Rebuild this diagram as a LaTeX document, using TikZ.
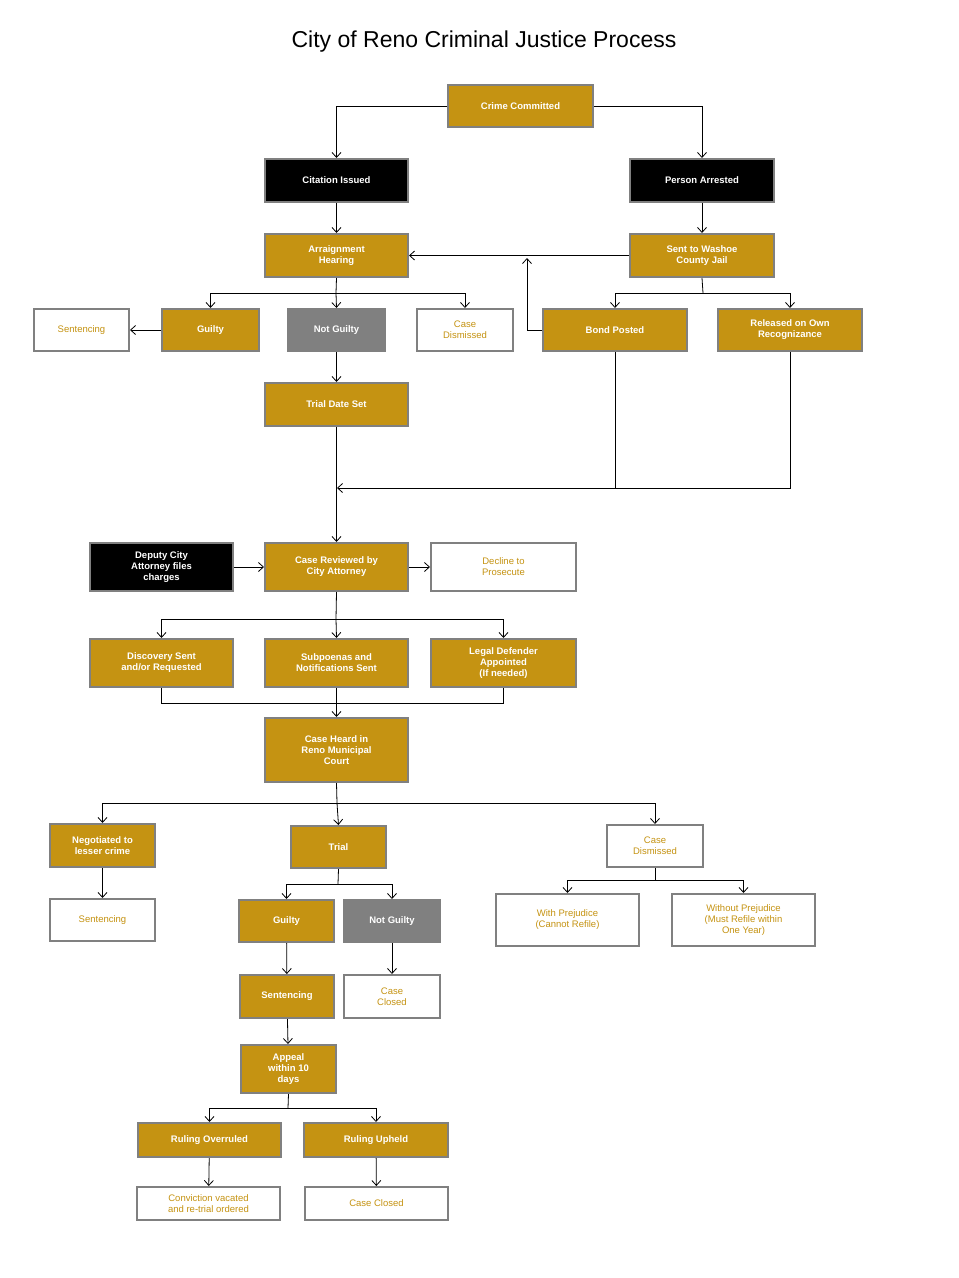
\documentclass[tikz,border=0pt]{standalone}
\usepackage{fontspec}
\setmainfont{Liberation Sans}
\usetikzlibrary{arrows.meta}
\definecolor{gold}{HTML}{C59312}
\definecolor{bord}{HTML}{808080}
\tikzset{
 box/.style={draw=bord,line width=2pt,align=center,inner sep=0pt,font=\bfseries\fontsize{9.5}{11}\selectfont},
 goldbox/.style={box,fill=gold,text=white},
 blackbox/.style={box,fill=black,text=white},
 graybox/.style={box,fill=bord,text=white},
 whitebox/.style={box,fill=white,text=gold,font=\fontsize{9.5}{11}\selectfont},
 ln/.style={line width=0.8pt},
 ar/.style={ln,-{Straight Barb[length=5pt,width=9pt]}}
}
\newcommand\bx[7]{\node[#6,minimum width={#4-#2},minimum height={#5-#3}] (#1) at ({(#2+#4)/2},{(#3+#5)/2}) {#7};}
\begin{document}
\begin{tikzpicture}[x=1pt,y=-1pt]
\useasboundingbox (0,0) rectangle (959,1278);
\node[font=\fontsize{23}{26}\selectfont] (title) at (484,42) {City of Reno Criminal Justice Process};
\bx{cc}{448}{85}{593}{127}{goldbox}{Crime Committed}
\bx{ci}{265}{159}{408}{202}{blackbox}{Citation Issued}
\bx{pa}{630}{159}{774}{202}{blackbox}{Person Arrested}
\bx{ah}{265}{234}{408}{277}{goldbox}{Arraignment\\Hearing}
\bx{sw}{630}{234}{774}{277}{goldbox}{Sent to Washoe\\County Jail}
\bx{s1}{34}{309}{129}{351}{whitebox}{Sentencing}
\bx{g1}{162}{309}{259}{351}{goldbox}{Guilty}
\bx{ng1}{288}{309}{385}{351}{graybox}{Not Guilty}
\bx{cd1}{417}{309}{513}{351}{whitebox}{Case\\Dismissed}
\bx{bp}{543}{309}{687}{351}{goldbox}{Bond Posted}
\bx{ro}{718}{309}{862}{351}{goldbox}{Released on Own\\Recognizance}
\bx{td}{265}{383}{408}{426}{goldbox}{Trial Date Set}
\bx{dc}{90}{543}{233}{591}{blackbox}{Deputy City\\Attorney files\\charges}
\bx{cr}{265}{543}{408}{591}{goldbox}{Case Reviewed by\\City Attorney}
\bx{dp}{431}{543}{576}{591}{whitebox}{Decline to\\Prosecute}
\bx{ds}{90}{639}{233}{687}{goldbox}{Discovery Sent\\and/or Requested}
\bx{sn}{265}{639}{408}{687}{goldbox}{Subpoenas and\\Notifications Sent}
\bx{ld}{431}{639}{576}{687}{goldbox}{Legal Defender\\Appointed\\(If needed)}
\bx{ch}{265}{718}{408}{782}{goldbox}{Case Heard in\\Reno Municipal\\Court}
\bx{nl}{50}{824}{155}{867}{goldbox}{Negotiated to\\lesser crime}
\bx{tr}{291}{826}{386}{868}{goldbox}{Trial}
\bx{cd2}{607}{825}{703}{867}{whitebox}{Case\\Dismissed}
\bx{s2}{50}{899}{155}{941}{whitebox}{Sentencing}
\bx{g2}{239}{900}{334}{942}{goldbox}{Guilty}
\bx{ng2}{344}{900}{440}{942}{graybox}{Not Guilty}
\bx{wp}{496}{894}{639}{946}{whitebox}{With Prejudice\\(Cannot Refile)}
\bx{wop}{672}{894}{815}{946}{whitebox}{Without Prejudice\\(Must Refile within\\One Year)}
\bx{s3}{240}{975}{334}{1018}{goldbox}{Sentencing}
\bx{cc1}{344}{975}{440}{1018}{whitebox}{Case\\Closed}
\bx{ap}{241}{1045}{336}{1093}{goldbox}{Appeal\\within 10\\days}
\bx{ro2}{138}{1123}{281}{1157}{goldbox}{Ruling Overruled}
\bx{ru}{304}{1123}{448}{1157}{goldbox}{Ruling Upheld}
\bx{cv}{137}{1187}{280}{1220}{whitebox}{Conviction vacated\\and re-trial ordered}
\bx{cc2}{305}{1187}{448}{1220}{whitebox}{Case Closed}
% connectors
\draw[ar] (cc.west) -| (ci.north);
\draw[ar] (cc.east) -| (pa.north);
\draw[ar] (ci) -- (ah);
\draw[ar] (pa) -- (sw);
\draw[ar] (sw.west) -- (ah.east);
\coordinate (up) at (527,258);
\draw[ar] (bp.west) -| (up);
\coordinate (j1) at (703,293);
\draw[ln] (sw.south) -- (j1);
\draw[ar] (j1) -| (bp.north);
\draw[ar] (j1) -| (ro.north);
\coordinate (j2) at (336,293);
\draw[ln] (ah.south) -- (j2);
\draw[ar] (j2) -| (g1.north);
\draw[ar] (j2) -| (cd1.north);
\draw[ar] (j2) -- (ng1.north);
\draw[ar] (g1.west) -- (s1.east);
\draw[ar] (ng1) -- (td);
\draw[ar] (td) -- (cr);
\coordinate (j3) at (337,488);
\draw[ln] (ro.south) |- (bp.south |- j3);
\draw[ar] (bp.south) |- (j3);
\draw[ar] (dc) -- (cr);
\draw[ar] (cr) -- (dp);
\coordinate (j4) at (336,619);
\draw[ln] (cr.south) -- (j4);
\draw[ar] (j4) -| (ds.north);
\draw[ar] (j4) -| (ld.north);
\draw[ar] (j4) -- (sn.north);
\coordinate (j5) at (336,703);
\draw[ln] (ds.south) |- (j5) -| (ld.south);
\draw[ar] (sn) -- (ch);
\coordinate (j6) at (337,803);
\draw[ln] (ch.south) -- (j6);
\draw[ar] (j6) -| (nl.north);
\draw[ar] (j6) -| (cd2.north);
\draw[ar] (j6) -- (tr.north);
\draw[ar] (nl) -- (s2);
\coordinate (j7) at (338,884);
\draw[ln] (tr.south) -- (j7);
\draw[ar] (j7) -| (g2.north);
\draw[ar] (j7) -| (ng2.north);
\coordinate (j8) at (655,880);
\draw[ln] (cd2.south) -- (j8);
\draw[ar] (j8) -| (wp.north);
\draw[ar] (j8) -| (wop.north);
\draw[ar] (g2) -- (s3);
\draw[ar] (ng2) -- (cc1);
\draw[ar] (s3) -- (ap);
\coordinate (j9) at (288,1108);
\draw[ln] (ap.south) -- (j9);
\draw[ar] (j9) -| (ro2.north);
\draw[ar] (j9) -| (ru.north);
\draw[ar] (ro2) -- (cv);
\draw[ar] (ru) -- (cc2);
\end{tikzpicture}
\end{document}
